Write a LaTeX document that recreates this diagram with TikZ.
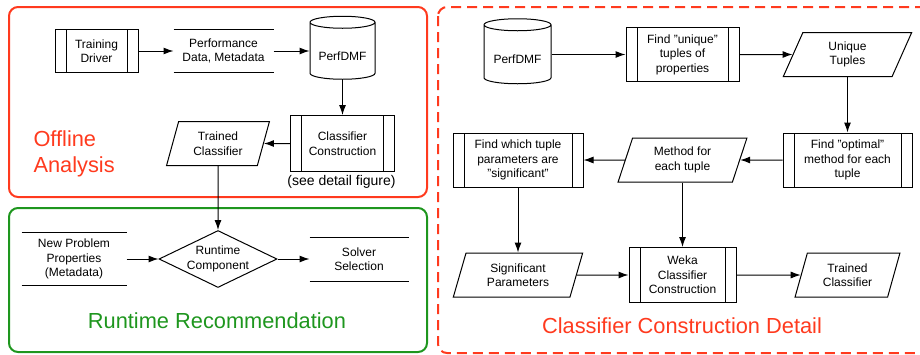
\documentclass[tikz,border=0pt]{standalone}
\usepackage{fontspec}
\setmainfont{Liberation Sans}
\usepackage{tikz}
\usetikzlibrary{arrows.meta,calc,positioning,shapes.geometric}
\definecolor{offred}{RGB}{255,58,30}
\definecolor{rtgreen}{RGB}{30,150,30}
\tikzset{%
	process/.style  = {draw, rectangle, minimum width=104pt, minimum height=54pt, inner sep=0pt, align=center,
	                   path picture={\draw ([xshift=11pt]path picture bounding box.north west) -- ([xshift=11pt]path picture bounding box.south west)
	                                       ([xshift=-11pt]path picture bounding box.north east) -- ([xshift=-11pt]path picture bounding box.south east);}},
	inout/.style    = {draw, trapezium, trapezium left angle=72, trapezium right angle=108, trapezium stretches=true, minimum width=129pt, minimum height=44pt, inner sep=0pt, align=center},
	store/.style    = {minimum width=100pt, minimum height=42pt, inner sep=0pt, align=center,
	                   append after command={(\tikzlastnode.north west) edge (\tikzlastnode.north east) (\tikzlastnode.south west) edge (\tikzlastnode.south east)}},
	database/.style = {draw, cylinder, shape border rotate=90, aspect=0.25, minimum width=65pt, minimum height=63pt, inner sep=0pt,
	                   text height=18pt, text depth=0pt},
	decision/.style = {draw, diamond, aspect=2, minimum width=118pt, minimum height=57pt, inner sep=0pt, align=center},
	arrow/.style    = {-{Latex[length=10pt,width=7pt]}},
	frame/.style    = {line width=2pt, rounded corners=9pt},
	title/.style    = {font=\fontsize{21.8}{26}\selectfont, inner sep=0pt, align=left},
}
\begin{document}
\begin{tikzpicture}[x=1pt,y=-1pt,line width=1pt,font=\fontsize{12}{14.5}\selectfont]
	\useasboundingbox (0,0) rectangle (920,354);
	% Offline Analysis
	\draw[frame,offred] (9,7) rectangle (427,197);
	\node[process,minimum width=83pt,minimum height=43pt] (train) at (96.5,51) {Training\\Driver};
	\node[store,minimum width=99pt] (perfdata) at (223.5,51) {Performance\\Data, Metadata};
	\node[database] (pdmf1) at (342.5,51) {PerfDMF};
	\node[process,minimum height=56pt] (ccons) at (342.5,143.5) {Classifier\\Construction};
	\node[font=\fontsize{14}{16}\selectfont] (seedetail) at (341.5,182) {(see detail figure)};
	\node[inout,minimum width=103pt] (tclass1) at (218,143.5) {Trained\\Classifier};
	\node[title,anchor=north west,text=offred] (offlbl) at (33,130) {Offline\\Analysis};
	\draw[arrow] (train) -- (perfdata);
	\draw[arrow] (perfdata) -- (pdmf1);
	\draw[arrow] (pdmf1) -- (ccons);
	\draw[arrow] (ccons) -- (tclass1);
	% Runtime Recommendation
	\draw[frame,rtgreen] (9,208) rectangle (427,352);
	\node[decision] (rtcomp) at (218,259) {Runtime\\Component};
	\node[store,minimum width=104pt,minimum height=52pt] (newprob) at (74,259) {New Problem\\Properties\\(Metadata)};
	\node[store,minimum width=98pt,minimum height=43pt] (solver) at (359,259) {Solver\\Selection};
	\node[title,anchor=base,text=rtgreen] (rtlbl) at (217,328) {Runtime Recommendation};
	\draw[arrow] (tclass1) -- (rtcomp);
	\draw[arrow] (newprob) -- (rtcomp);
	\draw[arrow] (rtcomp) -- (solver);
	% Classifier Construction Detail
	\begin{scope}
		\clip (0,0) rectangle (920,354);
		\draw[frame,offred,dash pattern=on 10pt off 6pt] (438,7) rectangle (930,353);
	\end{scope}
	\node[database,minimum width=67pt,minimum height=65pt] (pdmf2) at (517.5,54.5) {PerfDMF};
	\node[process,minimum width=113pt] (unique) at (682.5,54.5) {Find "unique"\\tuples of\\properties};
	\node[inout] (utuples) at (847.5,54.5) {Unique\\Tuples};
	\node[process,minimum width=129pt] (optimal) at (847.5,160) {Find "optimal"\\method for each\\tuple};
	\node[inout] (method) at (682.5,160) {Method for\\each tuple};
	\node[process,minimum width=130pt] (signif) at (518,160) {Find which tuple\\parameters are\\"significant"};
	\node[inout,minimum width=130pt] (sigpar) at (518,275) {Significant\\Parameters};
	\node[process,minimum width=107pt,minimum height=55pt] (weka) at (682.5,275) {Weka\\Classifier\\Construction};
	\node[inout,minimum width=105pt] (tclass2) at (847.5,275) {Trained\\Classifier};
	\node[title,anchor=base,text=offred] (detlbl) at (682,333) {Classifier Construction Detail};
	\draw[arrow] (pdmf2) -- (unique);
	\draw[arrow] (unique) -- (utuples);
	\draw[arrow] (utuples) -- (optimal);
	\draw[arrow] (optimal) -- (method);
	\draw[arrow] (method) -- (signif);
	\draw[arrow] (signif) -- (sigpar);
	\draw[arrow] (method) -- (weka);
	\draw[arrow] (sigpar) -- (weka);
	\draw[arrow] (weka) -- (tclass2);
\end{tikzpicture}
\end{document}
